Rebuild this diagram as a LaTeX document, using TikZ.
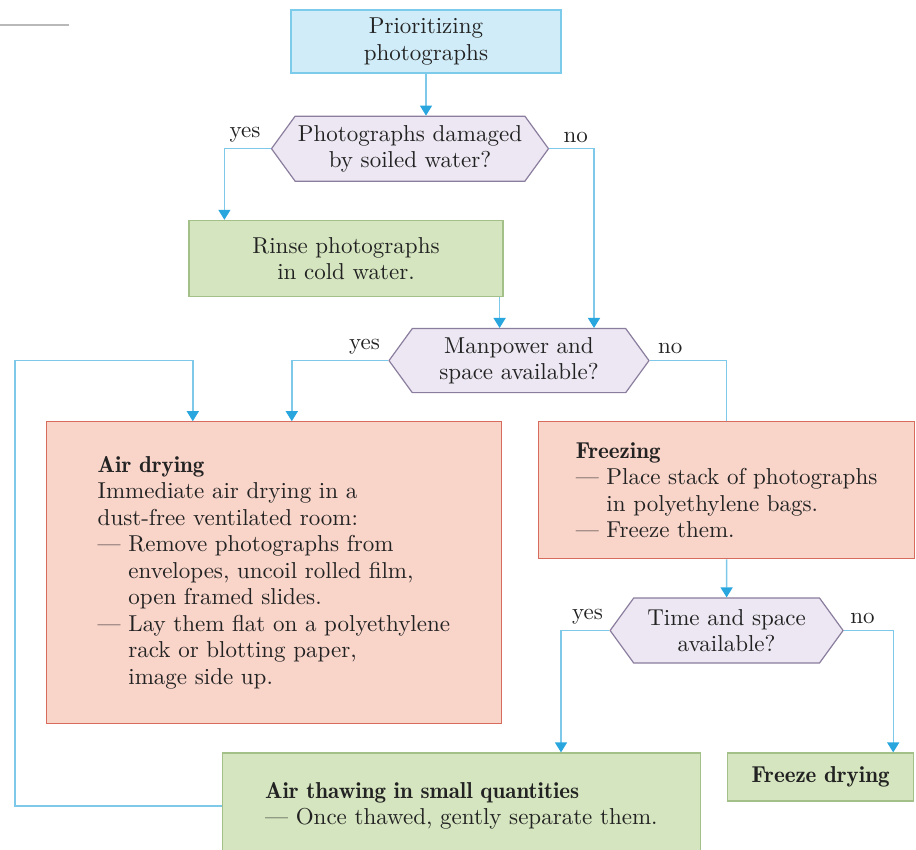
\documentclass[tikz,border=0pt]{standalone}
\usepackage{fontspec}
\setmainfont{lmroman10-regular.otf}[BoldFont=lmromandemi10-regular.otf]
\usepackage{xcolor}
\usetikzlibrary{arrows.meta,positioning,shapes.symbols}
\definecolor{boxblue}{HTML}{D0ECF8}
\definecolor{blueline}{HTML}{7DCBEA}
\definecolor{askfill}{HTML}{ECE7F2}
\definecolor{askline}{HTML}{8B7D9E}
\definecolor{actfill}{HTML}{D5E5BF}
\definecolor{actline}{HTML}{A3C088}
\definecolor{procfill}{HTML}{F8D4C9}
\definecolor{procline}{HTML}{D66B5E}
\definecolor{flowblue}{HTML}{7EC8EA}
\definecolor{tipblue}{HTML}{29A6DE}
\definecolor{inkgray}{HTML}{222222}
\newcommand{\contline}{\phantom{— }}

\begin{document}
\begin{tikzpicture}[font=\fontsize{11.5}{13.25}\selectfont,text=inkgray]
\tikzset{
  start/.style={draw=blueline,fill=boxblue,align=center,minimum width=135pt,minimum height=31.5pt,line width=0.6pt},
  ask/.style={signal,signal to=west and east,signal pointer angle=108,draw=askline,fill=askfill,align=center,inner sep=1pt,line width=0.6pt},
  act/.style={draw=actline,fill=actfill,align=center,line width=0.6pt},
  proc/.style={draw=procline,fill=procfill,align=left,line width=0.6pt},
  arr/.style={-{Triangle[length=5pt,width=6pt,color=tipblue]},draw=flowblue,line width=0.7pt},
  ln/.style={draw=flowblue,line width=0.7pt},
  lbl/.style={inner sep=0pt}
}
\useasboundingbox (0,0) rectangle (458pt,-425pt);
\draw[gray!55,line width=0.6pt] (0,-12.5pt) -- (34.5pt,-12.5pt);
\node(prio)[start] at (213pt,-20.75pt){Prioritizing\\photographs};
\node(dmg)[ask,minimum width=138.5pt,minimum height=32.5pt,below=21pt of prio,xshift=-8pt]{Photographs damaged\\by soiled water?};
\node(rinse)[act,minimum width=157pt,minimum height=38pt,below=19pt of dmg,xshift=-32pt]{Rinse photographs\\in cold water.};
\node(man)[ask,minimum width=130pt,minimum height=32pt,below=15.5pt of rinse,xshift=86.5pt]{Manpower and\\space available?};
\node(airdry)[proc,minimum width=227.5pt,minimum height=151pt,below=14pt of man,anchor=north east,xshift=-8.5pt]{\textbf{Air drying}\\Immediate air drying in a\\dust-free ventilated room:\\— Remove photographs from\\\contline envelopes, uncoil rolled film,\\\contline open framed slides.\\— Lay them flat on a polyethylene\\\contline rack or blotting paper,\\\contline image side up.};
\node(freeze)[proc,minimum width=188pt,minimum height=68.5pt,right=18pt of airdry.north east,anchor=north west]{\textbf{Freezing}\\— Place stack of photographs\\\contline in polyethylene bags.\\— Freeze them.};
\node(time)[ask,minimum width=116.5pt,minimum height=32.5pt,below=19pt of freeze]{Time and space\\available?};
\node(thaw)[act,align=left,minimum width=239pt,minimum height=53pt,below=14pt of airdry.south west,anchor=north west,xshift=88pt]{\textbf{Air thawing in small quantities}\\— Once thawed, gently separate them.};
\node(fdry)[act,minimum width=93pt,minimum height=24pt,right=13pt of thaw.north east,anchor=north west]{\textbf{Freeze drying}};
\node(y1)[lbl,above left=3pt and 5pt of dmg.west]{yes};
\node(n1)[lbl,above right=3pt and 7pt of dmg.east]{no};
\node(y2)[lbl,above left=3pt and 4pt of man.west]{yes};
\node(n2)[lbl,above right=3pt and 4pt of man.east]{no};
\node(y3)[lbl,above left=3pt and 3pt of time.west]{yes};
\node(n3)[lbl,above right=3pt and 3pt of time.east]{no};
\coordinate(r1) at ([xshift=-2pt]rinse.south east);
\coordinate(back) at ([xshift=-103.5pt]thaw.west);
\coordinate(fb) at ([xshift=73.5pt]airdry.north west);
\draw[arr](prio)--(prio|-dmg.north);
\draw[arr](dmg.west)-|([xshift=18pt]rinse.north west); \draw[arr](dmg.east)-|([xshift=37.5pt]man.north);
\draw[arr](r1)--(r1|-man.north);
\draw[arr](man.west)-|([xshift=123pt]airdry.north west); \draw[ln](man.east)-|(freeze.north);
\draw[arr](freeze)--(time);
\draw[arr](time.west)-|([xshift=-70pt]thaw.north east); \draw[arr](time.east)-|([xshift=-10.5pt]fdry.north east);
\draw[arr](thaw.west)--(back)|-(fb|-man.west)--(fb);
\end{tikzpicture}
\end{document}
